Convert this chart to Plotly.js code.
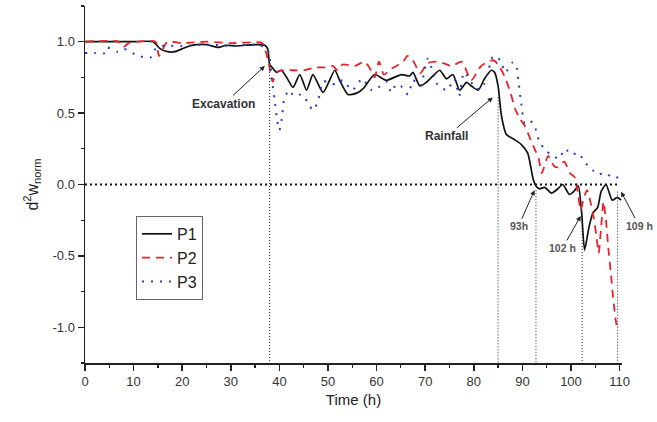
<!DOCTYPE html>
<html>
<head>
<meta charset="utf-8">
<script src="https://cdn.plot.ly/plotly-3.0.1.min.js"></script>
<style>html,body{margin:0;padding:0;background:#fff;}#chart{width:657px;height:422px;}</style>
</head>
<body>
<div id="chart"></div>
<script>
// ---- data ----
const p1Time = [0,5,10,14,15.5,17,18.5,20,21.5,23,25,27.5,29,31,33,35.5,37,37.6,38,38.5,39.4,40.4,41.5,42.8,44.2,45.6,46.9,49,51.4,52.4,54.1,55.9,57.2,59.6,62,65.1,66.8,67.5,68.9,70.2,71.6,73,74.4,75.7,77.1,78.5,79.5,80.9,82.2,83.6,84.3,85,85.7,86.7,88.1,89.8,91.1,92.2,92.8,93.5,94.6,96,97.3,98.3,99.7,100.7,101.5,102.2,102.8,103.7,104.5,105.5,106.2,107.2,108.5,109.5,110.3];
const p1Val  = [1.0,1.0,1.0,1.0,0.95,0.93,0.93,0.95,0.97,0.98,0.98,0.96,0.975,0.97,0.975,0.98,0.975,0.95,0.84,0.82,0.785,0.80,0.75,0.68,0.77,0.66,0.77,0.645,0.80,0.73,0.63,0.64,0.67,0.77,0.73,0.77,0.76,0.785,0.69,0.715,0.76,0.80,0.74,0.77,0.66,0.715,0.69,0.66,0.74,0.80,0.785,0.69,0.48,0.35,0.32,0.28,0.22,0.04,-0.01,-0.03,-0.02,-0.06,-0.03,0.0,-0.07,-0.045,-0.01,-0.2,-0.46,-0.3,-0.2,-0.16,-0.05,0.0,-0.11,-0.09,-0.11];

const p2Time = [0,7,7.8,9,14.5,15.2,16,17,20,25,30,36.5,37.2,37.8,38.6,39.5,41,43,45,47.5,50,51,52,53,55.5,57.5,58.5,59.6,60.5,61.5,63,65.5,66.3,67.3,69,70.5,72.8,75.5,77.5,79.5,81.5,84,85,86.3,87.5,88.5,89.5,90.5,91.5,92.5,93.3,94,95.3,96.5,97.3,98.6,99.8,100.8,101.5,102,102.6,103.3,104,104.6,105.2,105.7,106.2,106.7,107.2,107.7,108.2,108.7,109.2,109.6];
const p2Val  = [1.0,1.0,0.96,0.99,1.0,0.9,0.95,1.0,0.99,1.0,0.99,0.99,0.93,0.85,0.72,0.79,0.80,0.80,0.80,0.82,0.82,0.83,0.80,0.84,0.83,0.86,0.82,0.75,0.86,0.77,0.81,0.86,0.90,0.88,0.78,0.85,0.86,0.83,0.86,0.73,0.83,0.87,0.84,0.76,0.65,0.53,0.46,0.41,0.33,0.25,0.19,0.08,0.2,0.13,0.12,0.16,0.08,0.05,-0.08,-0.18,-0.1,-0.04,-0.12,-0.22,-0.35,-0.48,-0.3,-0.12,-0.25,-0.45,-0.62,-0.8,-0.95,-1.02];

const p3Time = [0,2,4,4.5,6.7,8,11,13.5,14.5,16,20,25,30,35,37.5,38.5,39,39.5,40,40.5,41,42,43,44,45,46,47,48,49,50,51.5,53,55,57,59,60,62,63,64,65,66.5,67.5,69,70.5,71.5,72.3,74.5,76,77,78,80.5,81.8,83,84,85.5,86.5,88,88.7,89.2,89.8,90.5,91.5,92.5,93.5,95,96,97.5,98.8,100,101.5,103,104.5,105.5,107,108.5,110];
const p3Val  = [0.92,0.92,0.92,0.96,0.93,0.95,0.90,0.89,0.95,0.97,0.97,0.98,0.97,0.98,0.95,0.72,0.6,0.46,0.38,0.46,0.6,0.66,0.62,0.63,0.62,0.56,0.52,0.59,0.72,0.72,0.7,0.73,0.66,0.74,0.66,0.67,0.72,0.645,0.70,0.69,0.63,0.73,0.69,0.88,0.80,0.71,0.66,0.74,0.62,0.785,0.67,0.68,0.8,0.90,0.87,0.785,0.855,0.84,0.72,0.56,0.43,0.45,0.41,0.30,0.23,0.21,0.18,0.25,0.21,0.22,0.15,0.1,0.07,0.08,0.05,0.05];

const seriesNames = ['P1','P2','P3'];
const eventTimes = [38, 85, 92.8, 102.3, 109.6];
const eventTops  = [0.83, 0.61, -0.04, -0.2, -0.05];
const eventLabels = ['Excavation','Rainfall','93h','102 h','109 h'];
const arrowTipX = [37, 83.9, 92.5, 102, 110.3];
const arrowTipY = [0.83, 0.61, -0.04, -0.22, -0.05];
const xTicks = [0,10,20,30,40,50,60,70,80,90,100,110];
const yTicks = [-1.0,-0.5,0.0,0.5,1.0];

// ---- chart ----
const FONT = 'Liberation Sans, Arial, sans-serif';
const traces = [
  {x: p1Time, y: p1Val, name: seriesNames[0], mode: 'lines', line: {color: '#111', width: 1.7, shape: 'spline', smoothing: 0.6}},
  {x: p2Time, y: p2Val, name: seriesNames[1], mode: 'lines', line: {color: '#e8232a', width: 1.8, dash: '8px,6px', shape: 'spline', smoothing: 0.6}},
  {x: p3Time, y: p3Val, name: seriesNames[2], mode: 'lines', line: {color: '#2a3fbf', width: 2, dash: '2px,7px', shape: 'spline', smoothing: 0.6}}
];

const shapes = [{
  type: 'line', xref: 'x', yref: 'y', x0: 0, x1: 110, y0: 0, y1: 0,
  line: {color: '#111', width: 2, dash: '2px,3px'}, layer: 'above'
}];
eventTimes.forEach((t, i) => {
  shapes.push({type: 'line', xref: 'x', yref: 'y', x0: t, x1: t, y0: eventTops[i], y1: -1.25,
    line: {color: '#222', width: 1, dash: '1px,2px'}});
});

const annOffsets = [[-41,38],[-46,39],[-16,36],[-18,32],[18,34]];
const annFont = [12,12,10.5,10.5,10.5];
const annColor = ['#333','#333','#555','#555','#555'];
const annotations = eventLabels.map((lab, i) => ({
  x: arrowTipX[i], y: arrowTipY[i], xref: 'x', yref: 'y',
  text: '<b>' + lab + '</b>', showarrow: true,
  ax: annOffsets[i][0], ay: annOffsets[i][1],
  arrowhead: 2, arrowsize: 1, arrowwidth: 1, arrowcolor: '#222',
  font: {family: FONT, size: annFont[i], color: annColor[i]}
}));

const layout = {
  width: 657, height: 422,
  margin: {l: 85, r: 35, t: 6, b: 59},
  paper_bgcolor: '#fff', plot_bgcolor: '#fff',
  font: {family: FONT, color: '#222'},
  showlegend: true,
  legend: {x: 0.095, y: 0.412, xanchor: 'left', yanchor: 'top',
    bgcolor: '#fff', bordercolor: '#666', borderwidth: 1,
    font: {family: FONT, size: 16, color: '#222'}, tracegroupgap: 0},
  xaxis: {
    range: [0, 110.5], showgrid: false, zeroline: false,
    showline: true, linecolor: '#222', linewidth: 1.5,
    ticks: 'outside', ticklen: 6, tickwidth: 1.5, tickcolor: '#222',
    tickmode: 'array', tickvals: xTicks, ticktext: xTicks.map(String),
    minor: {dtick: 5, tick0: 0, ticks: 'outside', ticklen: 3, tickwidth: 1.2, tickcolor: '#222'},
    tickfont: {family: FONT, size: 13, color: '#333'},
    title: {text: 'Time (h)', font: {family: FONT, size: 15, color: '#222'}, standoff: 6}
  },
  yaxis: {
    range: [-1.25, 1.25], showgrid: false, zeroline: false,
    showline: true, linecolor: '#222', linewidth: 1.5,
    ticks: 'outside', ticklen: 6, tickwidth: 1.5, tickcolor: '#222',
    tickmode: 'array', tickvals: yTicks, ticktext: yTicks.map(v => v.toFixed(1)),
    minor: {dtick: 0.25, tick0: 0, ticks: 'outside', ticklen: 3, tickwidth: 1.2, tickcolor: '#222'},
    tickfont: {family: FONT, size: 13, color: '#333'},
    title: {text: 'd<sup>2</sup>w<sub>norm</sub>', font: {family: FONT, size: 16, color: '#222'}, standoff: 10}
  },
  shapes: shapes,
  annotations: annotations
};

Plotly.newPlot('chart', traces, layout, {displayModeBar: false, staticPlot: true});
</script>
</body>
</html>
